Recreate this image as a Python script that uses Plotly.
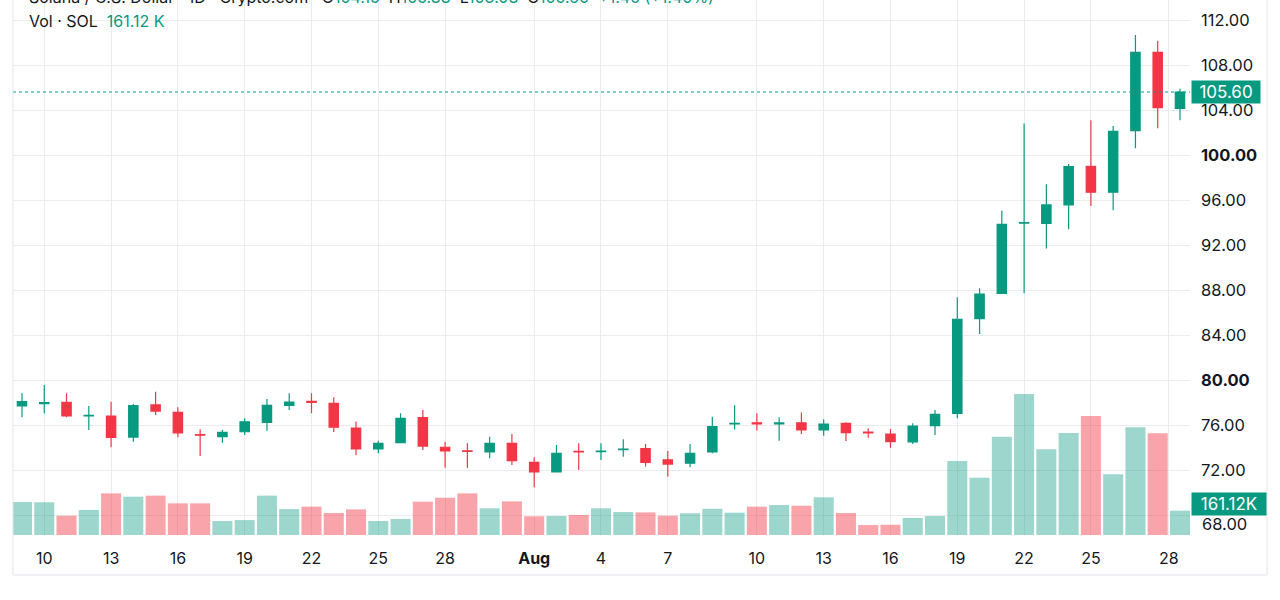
import plotly.graph_objects as go

# SOL/USD daily candles, Jul 9 -> Aug 30 (index = trading day)
opens = [77.69, 77.90, 78.02, 76.80, 76.80, 74.93, 77.78, 77.13, 75.15, 74.96,
         75.40, 76.24, 77.75, 78.10, 77.93, 75.73, 73.87, 74.43, 76.65, 74.02,
         73.70, 73.60, 74.37, 72.68, 71.82, 73.65, 73.62, 73.80, 73.90, 72.90,
         72.60, 73.60, 76.10, 76.20, 76.10, 76.20, 75.56, 76.15, 75.37, 75.20,
         74.49, 75.94, 77.04, 85.45, 87.70, 93.95, 93.92, 95.56, 99.00, 96.70,
         102.16, 109.12, 104.15]
highs = [78.82, 79.56, 78.82, 77.69, 78.07, 77.87, 78.96, 77.57, 75.62, 75.56,
         76.59, 78.31, 78.82, 78.82, 78.46, 76.30, 74.60, 77.04, 77.33, 74.52,
         74.37, 74.96, 75.20, 73.13, 74.22, 74.37, 74.37, 74.73, 74.31, 73.69,
         74.31, 76.74, 77.75, 77.04, 76.68, 77.10, 76.50, 76.24, 75.70, 75.64,
         76.15, 77.33, 87.35, 88.15, 95.05, 102.80, 97.40, 99.20, 103.10, 102.58,
         110.67, 110.16, 105.88]
lows = [76.68, 77.04, 76.68, 75.56, 74.02, 74.52, 76.89, 74.90, 73.24, 74.43,
        75.10, 75.49, 77.33, 77.04, 75.38, 73.30, 73.48, 74.37, 73.78, 72.20,
        72.20, 73.04, 72.44, 70.46, 71.80, 72.00, 72.89, 73.18, 72.30, 71.40,
        72.24, 73.48, 75.60, 75.50, 74.60, 75.20, 75.05, 74.58, 74.87, 73.98,
        74.31, 75.11, 76.60, 84.09, 87.64, 87.70, 91.70, 93.40, 95.47, 95.10,
        100.60, 102.37, 103.08]
closes = [78.07, 78.00, 76.80, 76.85, 74.90, 77.72, 77.24, 75.29, 75.10, 75.35,
          76.29, 77.75, 78.04, 78.00, 75.80, 73.87, 74.37, 76.60, 74.13, 73.69,
          73.65, 74.37, 72.83, 71.82, 73.48, 73.60, 73.68, 73.86, 72.68, 72.53,
          73.48, 75.85, 76.15, 76.10, 76.18, 75.56, 76.09, 75.32, 75.30, 74.52,
          75.91, 76.95, 85.40, 87.64, 93.84, 94.00, 95.56, 98.96, 96.70, 102.10,
          109.12, 104.20, 105.60]
volume_k = [219, 217, 128, 166, 276, 254, 261, 210, 210, 93,
            99, 261, 172, 188, 146, 170, 93, 106, 221, 247,
            276, 177, 223, 124, 126, 133, 177, 152, 150, 128,
            144, 174, 148, 188, 199, 194, 250, 146, 66, 68,
            113, 126, 491, 380, 652, 935, 568, 676, 789, 402,
            714, 674, 161.12]

tick_idx = [1, 4, 7, 10, 13, 16, 19, 23, 26, 29, 33, 36, 39, 42, 45, 48, 51.5]
tick_text = ["10", "13", "16", "19", "22", "25", "28", "<b>Aug</b>", "4", "7",
             "10", "13", "16", "19", "22", "25", "28"]
price_ticks = [68, 72, 76, 80, 84, 88, 92, 96, 100, 104, 108, 112]

last_price = 105.60
last_volume = "161.12K"

UP = "#089981"
DOWN = "#f23645"
TEXT = "#131722"
GRID = "#ececec"
FONT = "Inter, Roboto, sans-serif"

idx = list(range(len(opens)))
vol_colors = ["rgba(8,153,129,0.4)" if c >= o else "rgba(242,54,69,0.45)"
              for o, c in zip(opens, closes)]

fig = go.Figure()

fig.add_trace(go.Candlestick(
    x=idx, open=opens, high=highs, low=lows, close=closes,
    increasing=dict(line=dict(color=UP, width=1.2), fillcolor=UP),
    decreasing=dict(line=dict(color=DOWN, width=1.2), fillcolor=DOWN),
    whiskerwidth=0,
    showlegend=False,
    yaxis="y",
))

fig.add_trace(go.Bar(
    x=idx, y=volume_k,
    marker=dict(color=vol_colors, line=dict(width=0)),
    showlegend=False,
    yaxis="y2",
))

# pixel helpers (plot area: x 13..1190, y 0..535)
L, R, T, B = 13, 1190, 0, 535


def px(x):
    return (x - L) / (R - L)


def py(y):
    return (B - y) / (B - T)


price_text = []
for p in price_ticks:
    if p == 68:
        price_text.append("")
    elif p in (80, 100):
        price_text.append(f"<b>{p:.2f}</b>")
    else:
        price_text.append(f"{p:.2f}")

fig.update_layout(
    width=1280, height=600,
    margin=dict(l=L, r=1280 - R, t=T, b=600 - B),
    paper_bgcolor="white",
    plot_bgcolor="white",
    font=dict(family=FONT, color=TEXT, size=16),
    boxgap=0.4,
    bargap=0.1,
    xaxis=dict(
        range=[-0.404, 52.45],
        tickvals=tick_idx, ticktext=tick_text,
        showgrid=True, gridcolor=GRID, gridwidth=1,
        zeroline=False, showline=False, ticks="",
        tickfont=dict(size=16, color=TEXT),
        ticklabelstandoff=12,
        rangeslider=dict(visible=False),
        fixedrange=True,
    ),
    yaxis=dict(
        side="right",
        range=[66.222, 113.778],
        tickvals=price_ticks, ticktext=price_text,
        showgrid=True, gridcolor=GRID, gridwidth=1,
        zeroline=False, showline=False, ticks="",
        tickfont=dict(size=16.5, color=TEXT),
        ticklabelstandoff=10,
    ),
    yaxis2=dict(
        overlaying="y",
        range=[0, 3547],
        visible=False,
        showgrid=False,
    ),
)

# last price dotted line
fig.add_shape(type="line", xref="paper", yref="y", x0=0, x1=1,
              y0=last_price, y1=last_price,
              line=dict(color=UP, width=1.2, dash="dot"))

# chart frame
frame = dict(color="#e0e3eb", width=1)
fig.add_shape(type="line", xref="paper", yref="paper", x0=0, x1=0,
              y0=py(575), y1=1.01, line=frame)
fig.add_shape(type="line", xref="paper", yref="paper", x0=0, x1=px(1267),
              y0=py(575), y1=py(575), line=frame)
fig.add_shape(type="line", xref="paper", yref="paper", x0=px(1267), x1=px(1267),
              y0=py(575), y1=1.01, line=frame)

# header (cut off at the top)
g = lambda s: f"<span style='color:{UP}'>{s}</span>"
header = ("Solana / U.S. Dollar · 1D · Crypto.com   "
          f"O{g('104.15')}  H{g('105.88')}  L{g('103.08')}  C{g('105.60')}  "
          f"{g('+1.45 (+1.40%)')}")
fig.add_annotation(text=header, xref="paper", yref="paper", x=px(27), y=py(-3),
                   xanchor="left", yanchor="middle", showarrow=False,
                   font=dict(size=16, color=TEXT))
fig.add_annotation(text=f"Vol · SOL  {g('161.12 K')}", xref="paper", yref="paper",
                   x=px(27), y=py(21), xanchor="left", yanchor="middle",
                   showarrow=False, font=dict(size=16, color=TEXT))

# 68.00 label pushed down by the volume badge
fig.add_annotation(text="68.00", xref="paper", yref="paper", x=px(1200), y=py(524),
                   xanchor="left", yanchor="middle", showarrow=False,
                   font=dict(size=16.5, color=TEXT))

# price / volume badges on the scale
fig.add_annotation(text=f"{last_price:.2f}", xref="paper", yref="y",
                   x=px(1191), y=last_price, xanchor="left", yanchor="middle",
                   showarrow=False, bgcolor=UP, borderpad=0, width=68, height=22,
                   align="center", font=dict(size=17, color="white"))
fig.add_annotation(text=last_volume, xref="paper", yref="paper",
                   x=px(1191), y=py(504), xanchor="left", yanchor="middle",
                   showarrow=False, bgcolor=UP, borderpad=0, width=74, height=22,
                   align="center", font=dict(size=17, color="white"))

# page body has a default 8px margin; remove it so the figure sits at 0,0
fig.write_html("out.html", config={"displayModeBar": False},
               post_script="document.body.style.margin='0px';")
